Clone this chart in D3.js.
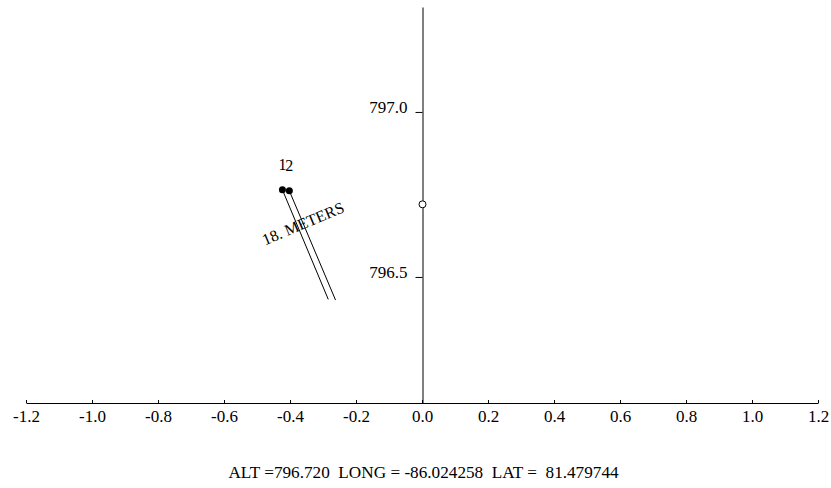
<!DOCTYPE html>
<html>
<head>
<meta charset="utf-8">
<script src="https://cdn.jsdelivr.net/npm/d3@7"></script>
<style>
  html, body { margin: 0; padding: 0; background: #fff; }
  svg { display: block; font-family: "Liberation Serif", "Times New Roman", serif; }
</style>
</head>
<body>
<div id="chart"></div>
<script>
// axis ticks
var xTicks = [-1.2, -1.0, -0.8, -0.6, -0.4, -0.2, 0.0, 0.2, 0.4, 0.6, 0.8, 1.0, 1.2];
var yTicks = [796.5, 797.0];

// stations (offset from reference point, altitude)
var stationNames = ["1", "2"];
var stationX = [-0.423, -0.402];
var stationY = [796.764, 796.761];
// far ends of the direction lines
var lineEndX = [-0.284, -0.262];
var lineEndY = [796.432, 796.430];
var distanceLabel = "18. METERS";

// reference point
var refX = 0.0;
var refAlt = 796.720;
var footer = "ALT =796.720  LONG = -86.024258  LAT =  81.479744";

var width = 831, height = 488;

var svg = d3.select('#chart')
    .append('svg')
    .attr('width', width)
    .attr('height', height);

var x = d3.scaleLinear().domain([-1.2, 1.2]).range([26, 818]);
var y = d3.scaleLinear().domain([796.118, 797.318]).range([403, 7]);

var fmt = function (d) { return d.toFixed(1); };

// x axis, ticks pointing up
var xAxis = svg.append('g')
    .attr('transform', 'translate(0,403)')
    .call(d3.axisBottom(x).tickValues(xTicks).tickSizeInner(-3).tickSizeOuter(0).tickFormat(fmt));
xAxis.attr('font-family', null).attr('font-size', 17);
xAxis.selectAll('text').attr('y', 19).attr('dy', 0);

// y axis through zero
var yAxis = svg.append('g')
    .attr('transform', 'translate(' + (x(0) + 0.5) + ',0)')
    .call(d3.axisLeft(y).tickValues(yTicks).tickSizeInner(7).tickSizeOuter(0).tickFormat(fmt));
yAxis.attr('font-family', null).attr('font-size', 17);
yAxis.selectAll('text').attr('x', -15).attr('dy', 1);

var stations = stationNames.map(function (n, i) {
    return {name: n, x: stationX[i], y: stationY[i], ex: lineEndX[i], ey: lineEndY[i]};
});

// direction lines
svg.selectAll('line.dir')
    .data(stations)
    .enter().append('line')
    .attr('class', 'dir')
    .attr('x1', function (d) { return x(d.x); })
    .attr('y1', function (d) { return y(d.y); })
    .attr('x2', function (d) { return x(d.ex); })
    .attr('y2', function (d) { return y(d.ey); })
    .style('stroke', '#000')
    .style('stroke-width', 1);

svg.selectAll('circle.station')
    .data(stations)
    .enter().append('circle')
    .attr('class', 'station')
    .attr('cx', function (d) { return x(d.x); })
    .attr('cy', function (d) { return y(d.y); })
    .attr('r', 3.5)
    .style('fill', '#000');

svg.selectAll('text.station')
    .data(stations)
    .enter().append('text')
    .attr('class', 'station')
    .attr('x', function (d) { return x(d.x); })
    .attr('y', function (d) { return y(d.y) - 19.5; })
    .attr('text-anchor', 'middle')
    .attr('font-size', 16)
    .text(function (d) { return d.name; });

// distance label, perpendicular to the lines
var sx = d3.mean(stations, function (d) { return x(d.x); });
var sy = d3.mean(stations, function (d) { return y(d.y); });
var ex = d3.mean(stations, function (d) { return x(d.ex); });
var ey = d3.mean(stations, function (d) { return y(d.ey); });
var t = 0.36;
var lx = sx + (ex - sx) * t, ly = sy + (ey - sy) * t;
var angle = Math.atan2(ey - sy, ex - sx) * 180 / Math.PI - 90;
svg.append('text')
    .attr('transform', 'translate(' + lx + ',' + ly + ') rotate(' + angle + ')')
    .attr('dx', 3)
    .attr('text-anchor', 'middle')
    .attr('font-size', 16)
    .text(distanceLabel);

// reference point
svg.append('circle')
    .attr('cx', x(refX) + 0.5)
    .attr('cy', y(refAlt))
    .attr('r', 3.5)
    .style('fill', '#fff')
    .style('stroke', '#000')
    .style('stroke-width', 1);

svg.append('text')
    .attr('x', 423.5)
    .attr('y', 478)
    .attr('text-anchor', 'middle')
    .attr('font-size', 17.2)
    .style('white-space', 'pre')
    .text(footer);
</script>
</body>
</html>
